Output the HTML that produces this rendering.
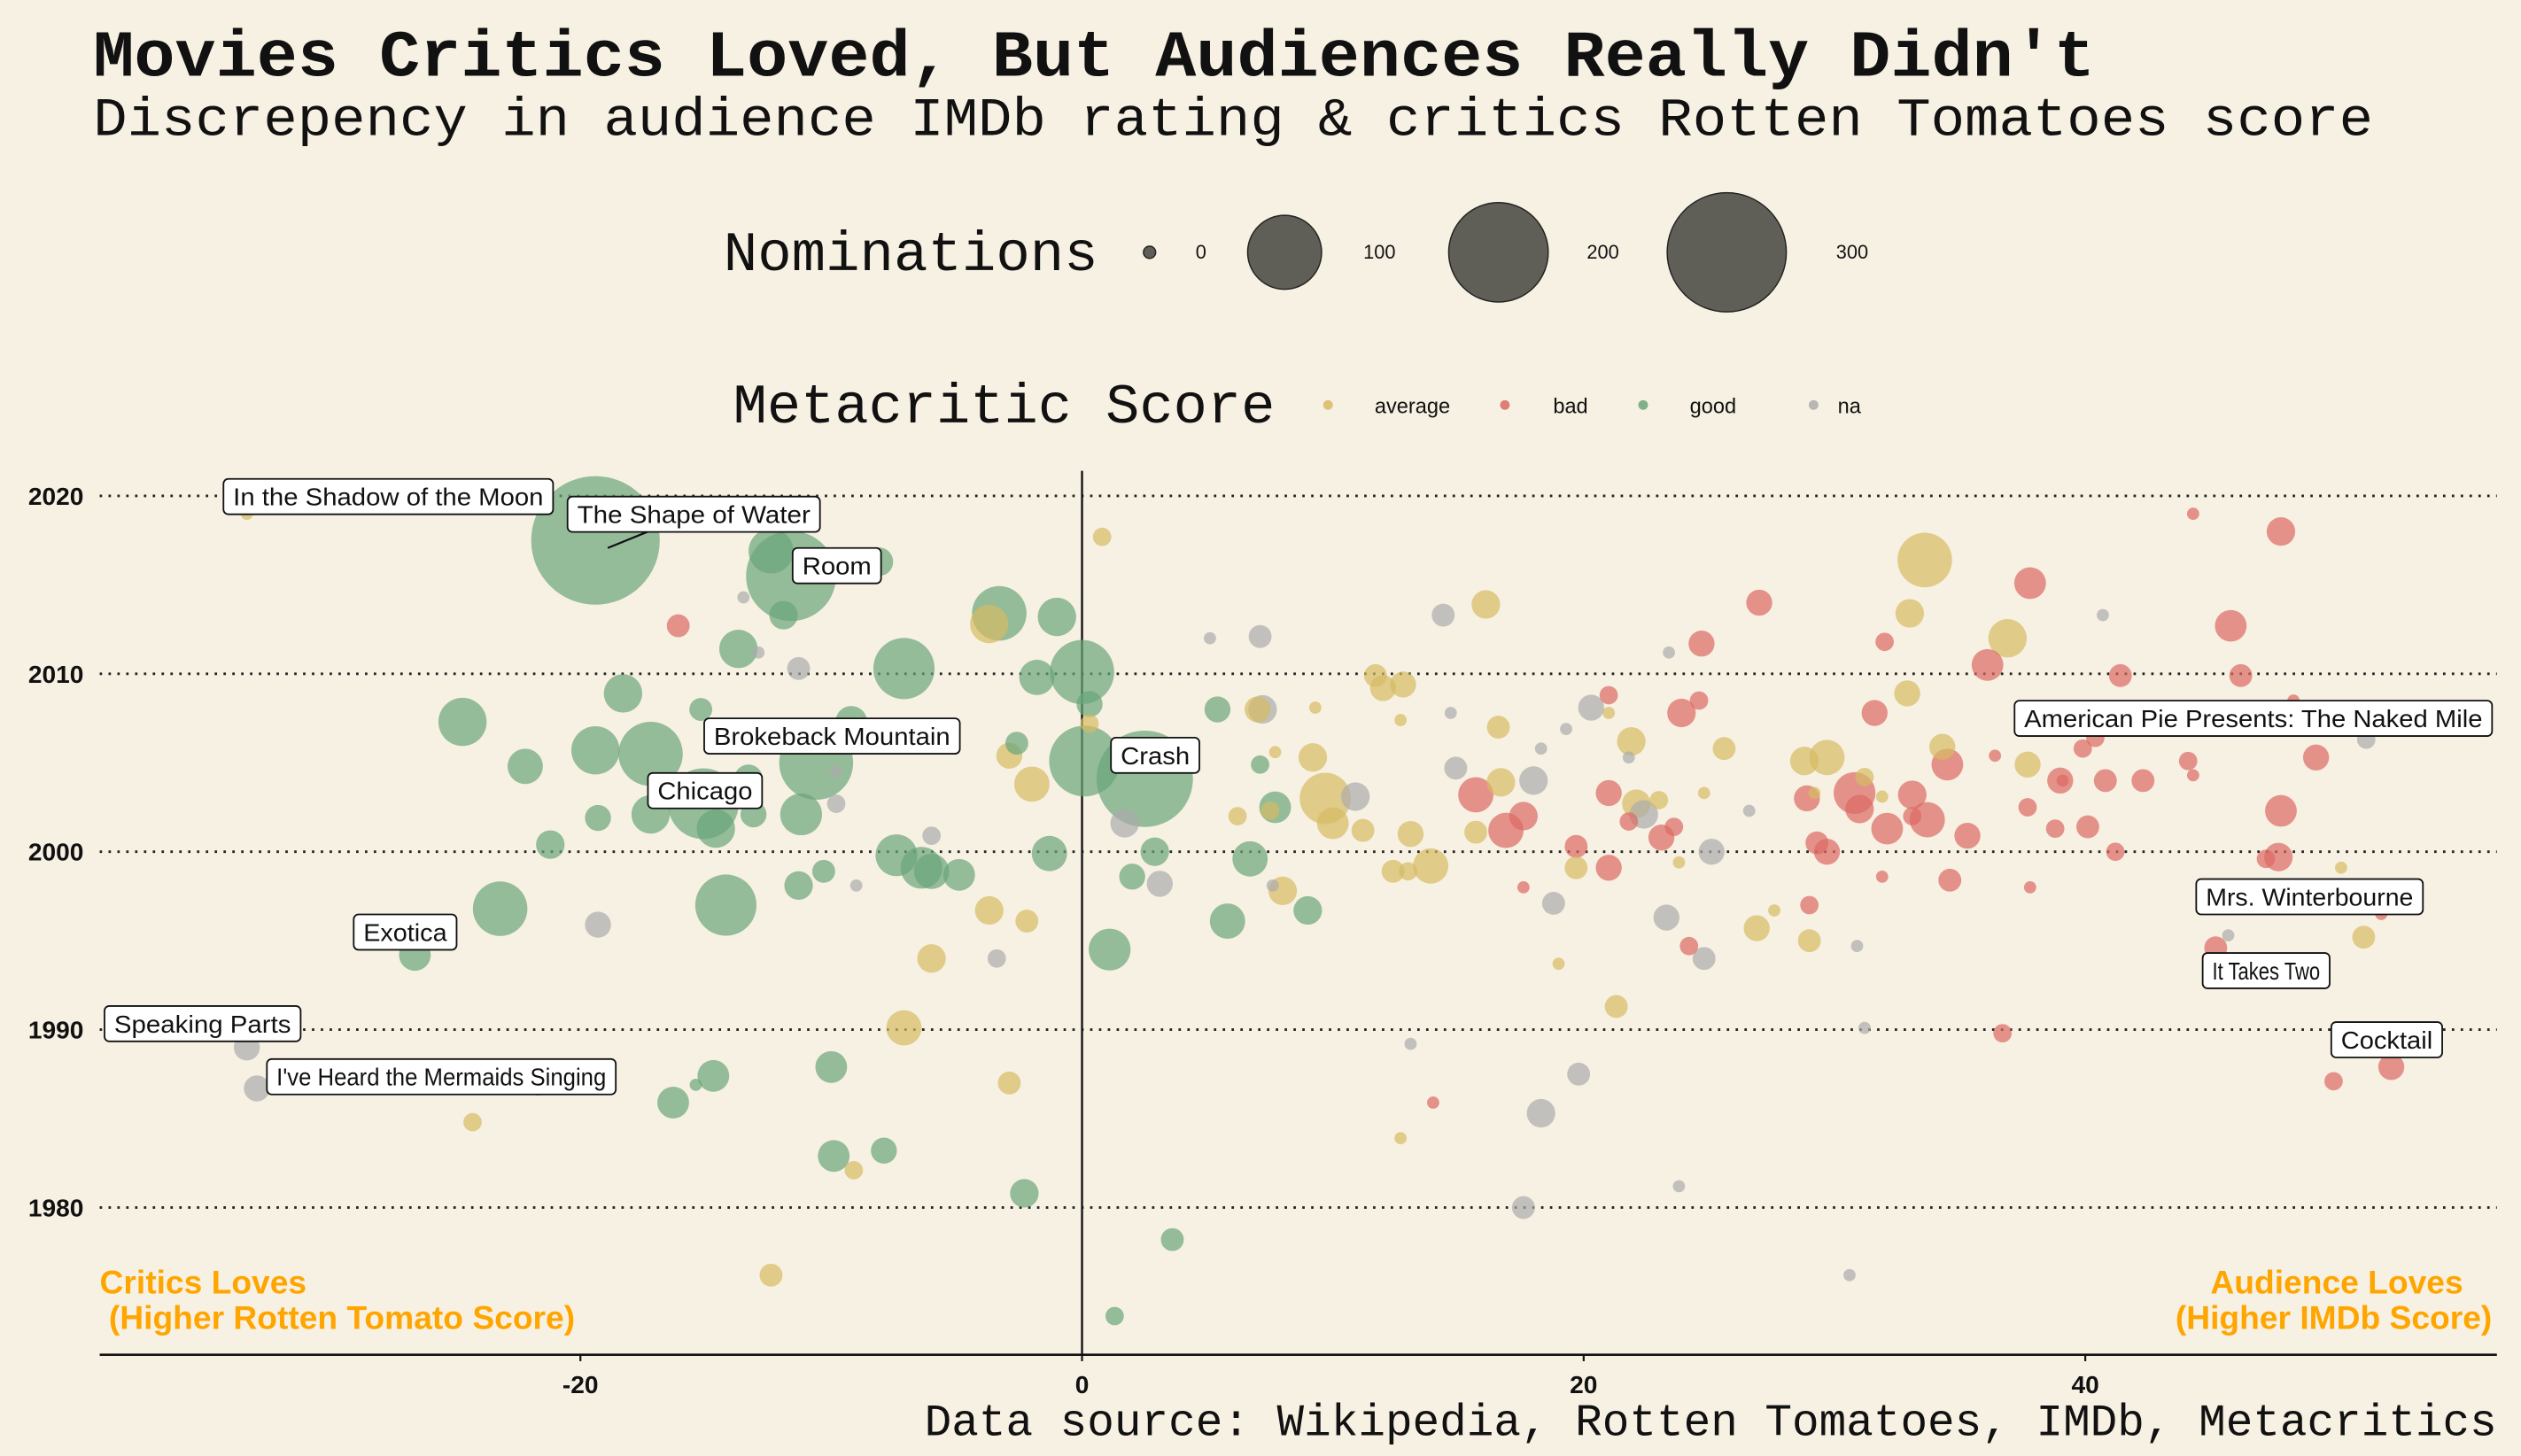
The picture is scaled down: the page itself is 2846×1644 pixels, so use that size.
<!DOCTYPE html>
<html><head><meta charset="utf-8"><style>
html,body{margin:0;padding:0;background:#F7F1E3;}
svg{display:block;}
.mono{font-family:"Liberation Mono",monospace;}
.sans{font-family:"Liberation Sans",sans-serif;}
</style></head><body>
<svg id="chart" width="2846" height="1644" viewBox="0 0 1568 906" preserveAspectRatio="none" xmlns="http://www.w3.org/2000/svg">
<rect width="1568" height="906" fill="#F7F1E3"/>
<text class="mono" x="58" y="47" font-size="41" font-weight="bold" fill="#111" textLength="1245" lengthAdjust="spacingAndGlyphs">Movies Critics Loved, But Audiences Really Didn't</text>
<text class="mono" x="58" y="84" font-size="33.6" fill="#111" textLength="1418" lengthAdjust="spacingAndGlyphs">Discrepency in audience IMDb rating &amp; critics Rotten Tomatoes score</text>
<g id="sizeLegend">
<text class="mono" x="450" y="168" font-size="35" fill="#111" textLength="233" lengthAdjust="spacingAndGlyphs">Nominations</text>
</g>
<g id="colorLegend">
<text class="mono" x="456" y="263" font-size="35" fill="#111" textLength="337" lengthAdjust="spacingAndGlyphs">Metacritic Score</text>
</g>
<g id="grid"></g>
<g id="axes"></g>
<g id="points"></g>
<g id="labels"></g>
<text class="sans" x="62" y="805" font-size="20.5" font-weight="bold" fill="#FFA500">Critics Loves</text>
<text class="sans" x="62" y="827" font-size="20.5" font-weight="bold" fill="#FFA500" xml:space="preserve"> (Higher Rotten Tomato Score)</text>
<text class="sans" x="1532" y="805" font-size="20.5" font-weight="bold" fill="#FFA500" text-anchor="end">Audience Loves</text>
<text class="sans" x="1550" y="827" font-size="20.5" font-weight="bold" fill="#FFA500" text-anchor="end">(Higher IMDb Score)</text>
<text class="mono" x="575" y="893" font-size="28" fill="#111" textLength="978" lengthAdjust="spacingAndGlyphs">Data source: Wikipedia, Rotten Tomatoes, IMDb, Metacritics</text>
</svg>
<script>
const NS="http://www.w3.org/2000/svg";
const xTicks=[-20,0,20,40];
const yTicks=[1980,1990,2000,2010,2020];
const sizeLegendValues=[0,100,200,300];
const categories=["average","bad","good","na"];
const catColors={average:"#D6BA62",bad:"#DB6A62",good:"#6AA579",na:"#ABABAB"};
// rows: [imdb-minus-rt difference, year, nominations, metacritic category]
const movies=[
[-19.4,2017.5,355,"good"],[-33.3,2019,0,"average"],[-12.4,2016.9,28,"good"],[-11.6,2015.5,159,"good"],[-8.1,2016.3,7,"good"],
[-16.1,2012.7,3,"bad"],[-13.5,2014.3,0,"na"],[-11.9,2013.3,7,"good"],[-13.7,2011.4,18,"good"],[-12.9,2011.2,0,"na"],
[-11.3,2010.3,3,"na"],[-7.1,2010.3,63,"good"],[-3.7,2012.8,18,"average"],[-3.3,2013.4,47,"good"],[-1.0,2013.2,18,"good"],
[-1.8,2009.8,14,"good"],[0,2010.1,71,"good"],[0.3,2008.3,5,"good"],[0.3,2007.2,1,"average"],[-18.3,2008.9,18,"good"],
[-15.2,2008.0,3,"good"],[-24.7,2007.3,34,"good"],[-22.2,2004.8,14,"good"],[-19.4,2005.7,34,"good"],[-17.2,2005.5,71,"good"],
[-9.2,2007.3,10,"good"],[-10.6,2005.0,100,"good"],[-13.3,2004.1,7,"good"],[-15.1,2002.7,90,"good"],[-14.6,2001.3,18,"good"],
[-13.1,2002.1,5,"good"],[-11.2,2002.1,23,"good"],[-17.2,2002.1,18,"good"],[-19.3,2001.9,5,"good"],[-21.2,2000.4,7,"good"],
[-9.8,2004.5,0,"na"],[-9.8,2002.7,1,"na"],[-6.0,2000.9,1,"na"],[-7.4,1999.8,23,"good"],[-6.4,1999.1,23,"good"],
[-4.9,1998.7,10,"good"],[-6.0,1998.9,14,"good"],[-11.3,1998.1,7,"good"],[-10.3,1998.9,3,"good"],[-9.0,1998.1,0,"na"],
[-1.3,1999.9,14,"good"],[-14.2,1997.0,63,"good"],[-23.2,1996.8,47,"good"],[-19.3,1995.9,5,"na"],[-26.6,1994.2,10,"good"],
[-3.7,1996.7,7,"average"],[-2.2,1996.1,3,"average"],[-6.0,1994.0,7,"average"],[-3.4,1994.0,1,"na"],[-7.1,1990.1,14,"average"],
[-33.3,1989.0,5,"na"],[-32.9,1986.7,5,"na"],[-21.7,1987.1,7,"good"],[-14.7,1987.4,10,"good"],[-15.4,1986.9,0,"good"],
[-16.3,1985.9,10,"good"],[-10.0,1987.9,10,"good"],[-2.9,1987.0,3,"average"],[-24.3,1984.8,1,"average"],[-9.9,1982.9,10,"good"],
[-7.9,1983.2,5,"good"],[-9.1,1982.1,1,"average"],[-2.3,1980.8,7,"good"],[-12.4,1976.2,3,"average"],[-2.6,2006.1,3,"good"],
[-2.9,2005.4,5,"average"],[-2.0,2003.8,14,"average"],
[0.8,2017.7,1,"average"],[2.5,2004.1,186,"good"],[0.1,2005.1,90,"good"],[1.7,2001.6,7,"na"],[1.1,1994.5,23,"good"],
[2.0,1998.6,5,"good"],[2.9,2000.0,7,"good"],[3.1,1998.2,5,"na"],[5.1,2012.0,0,"na"],[7.1,2012.1,3,"na"],
[5.4,2008.0,5,"good"],[7.2,2008.0,7,"na"],[7.0,2008.0,5,"average"],[7.1,2004.9,1,"good"],[7.7,2002.5,10,"good"],
[7.5,2002.3,1,"average"],[6.2,2002.0,1,"average"],[6.7,1999.6,14,"good"],[8.0,1997.8,7,"average"],[7.6,1998.1,0,"na"],
[5.8,1996.1,14,"good"],[9.0,1996.7,7,"good"],[1.3,1973.9,1,"good"],[3.6,1978.2,3,"good"],[7.7,2005.6,0,"average"],
[9.3,2008.1,0,"average"],[9.2,2005.3,7,"average"],[9.7,2003.0,40,"average"],[10.9,2003.1,7,"na"],[10.0,2001.6,10,"average"],
[11.2,2001.2,3,"average"],[11.7,2009.9,3,"average"],[12.0,2009.2,5,"average"],[12.8,2009.4,5,"average"],[12.7,2007.4,0,"average"],
[13.1,2001.0,5,"average"],[12.4,1998.9,3,"average"],[13.0,1998.9,1,"average"],[13.9,1999.2,14,"average"],[13.1,1989.2,0,"na"],
[12.7,1983.9,0,"average"],[14.0,1985.9,0,"bad"],[14.4,2013.3,3,"na"],[16.1,2013.9,7,"average"],[14.7,2007.8,0,"na"],
[14.9,2004.7,3,"na"],[15.7,2001.1,3,"average"],[15.7,2003.2,14,"bad"],[16.9,2001.2,14,"bad"],[16.7,2003.9,7,"average"],
[16.6,2007.0,3,"average"],[17.6,2002.0,7,"bad"],[18.0,2004.0,7,"na"],[18.3,2005.8,0,"na"],[17.6,1998.0,0,"bad"],
[18.8,1997.1,3,"na"],[19.0,1993.7,0,"average"],[17.6,1980.0,3,"na"],[18.3,1985.3,7,"na"],[19.8,1987.5,3,"na"],
[19.7,2000.3,3,"bad"],[19.7,1999.1,3,"average"],[19.3,2006.9,0,"na"],[20.3,2008.1,5,"na"],[21.0,2008.8,1,"bad"],
[21.0,2007.8,0,"average"],[21.0,2003.3,5,"bad"],[21.0,1999.1,5,"bad"],[21.3,1991.3,3,"average"],[21.9,2006.2,7,"average"],
[22.1,2002.7,7,"average"],[21.8,2005.3,0,"na"],[22.4,2002.1,7,"na"],[23.0,2002.9,1,"average"],[21.8,2001.7,1,"bad"],
[23.1,2000.8,5,"bad"],[23.6,2001.4,1,"bad"],[23.8,1999.4,0,"average"],[23.3,1996.3,5,"na"],[24.2,1994.7,1,"bad"],
[24.8,1994.0,3,"na"],[23.9,2007.8,7,"bad"],[24.6,2008.5,1,"bad"],[24.7,2011.7,5,"bad"],[23.4,2011.2,0,"na"],
[25.6,2005.8,3,"average"],[24.8,2003.3,0,"average"],[25.1,2000.0,5,"na"],[26.6,2002.3,0,"na"],[27.0,2014.0,5,"bad"],
[26.9,1995.7,5,"average"],[27.6,1996.7,0,"average"],[23.8,1981.2,0,"na"],[28.8,2005.1,7,"average"],[29.7,2005.3,14,"average"],
[28.9,2003.0,5,"bad"],[29.2,2003.3,0,"average"],[29.3,2000.5,3,"bad"],[29.7,2000.0,5,"bad"],[29.0,1997.0,1,"bad"],
[29.0,1995.0,3,"average"],[30.8,2003.3,23,"bad"],[31.0,2002.4,7,"bad"],[32.1,2001.3,10,"bad"],[31.9,2003.1,0,"average"],
[31.2,2004.2,1,"average"],[31.9,1998.6,0,"bad"],[30.9,1994.7,0,"na"],[31.2,1990.1,0,"na"],[30.6,1976.2,0,"na"],
[31.6,2007.8,5,"bad"],[32.0,2011.8,1,"bad"],[32.9,2008.9,5,"average"],[33.0,2013.4,7,"average"],[33.6,2016.4,47,"average"],
[33.1,2003.2,7,"bad"],[33.7,2001.8,14,"bad"],[33.1,2002.0,1,"bad"],[34.5,2004.9,10,"bad"],[34.6,1998.4,3,"bad"],
[34.3,2005.9,5,"average"],[35.3,2000.9,5,"bad"],[36.1,2010.5,10,"bad"],[36.9,2012.0,18,"average"],[36.4,2005.4,0,"bad"],
[36.7,1989.8,1,"bad"],[37.8,2015.1,10,"bad"],[37.7,2004.9,5,"average"],[37.7,2002.5,1,"bad"],[37.8,1998.0,0,"bad"],
[38.8,2001.3,1,"bad"],[39.0,2004.0,5,"bad"],[39.1,2004.0,0,"bad"],[40.1,2001.4,3,"bad"],[39.9,2005.8,1,"bad"],
[40.4,2006.4,1,"bad"],[40.8,2004.0,3,"bad"],[41.2,2000.0,1,"bad"],[41.4,2009.9,3,"bad"],[40.7,2013.3,0,"na"],
[42.3,2004.0,3,"bad"],[44.1,2005.1,1,"bad"],[44.3,2004.3,0,"bad"],[44.3,2019.0,0,"bad"],[47.8,2018.0,7,"bad"],
[45.8,2012.7,10,"bad"],[46.2,2009.9,3,"bad"],[45.2,1994.6,3,"bad"],[45.7,1995.3,0,"na"],[47.8,2002.3,10,"bad"],
[47.7,1999.7,7,"bad"],[47.2,1999.6,1,"bad"],[48.3,2008.5,0,"bad"],[49.2,2005.3,5,"bad"],[51.2,2006.3,1,"na"],
[50.2,1999.1,0,"average"],[51.1,1995.2,3,"average"],[51.8,1996.5,0,"bad"],[49.9,1987.1,1,"bad"],[52.2,1987.9,5,"bad"]
];
const annotations=[
["In the Shadow of the Moon",139,298,205],["The Shape of Water",353,309,157],["Room",493,341,55],
["Brokeback Mountain",438,447,159],["Chicago",403,481,71],["Exotica",220,569,64],["Speaking Parts",65,626,122],
["I've Heard the Mermaids Singing",166,659,217],["Crash",691,459,55],["American Pie Presents: The Naked Mile",1253,436,297],
["Mrs. Winterbourne",1366,547,141],["It Takes Two",1370,593,79],["Cocktail",1450,636,69]
];
const xScale=v=>673+v*15.6;
const yScale=y=>530-(y-2000)*11.07;
const rScale=n=>3.8+1.92*Math.sqrt(Math.max(0,n));
function mk(tag,attrs,parent){const e=document.createElementNS(NS,tag);for(const k in attrs)e.setAttribute(k,attrs[k]);parent.appendChild(e);return e;}
const grid=document.getElementById('grid'),axes=document.getElementById('axes'),pts=document.getElementById('points'),lab=document.getElementById('labels');
yTicks.forEach(t=>{
 const l=mk('line',{x1:62,x2:1553,y1:yScale(t),y2:yScale(t),stroke:'#222','stroke-width':1.6,'stroke-dasharray':'1.5 4'},grid);
 
 
 const tx=mk('text',{x:52,y:yScale(t)+5.5,'text-anchor':'end','font-size':15.5,'font-weight':'bold',class:'sans',fill:'#111'},axes);
 tx.textContent=t;
 
 
});
let zl=mk('line',{x1:xScale(0),x2:xScale(0),y1:293,y2:843,stroke:'#111','stroke-width':1.3},axes);


let xa=mk('line',{x1:62,x2:1553,y1:843,y2:843,stroke:'#111','stroke-width':1.5},axes);


xTicks.forEach(t=>{
 const tk=mk('line',{x1:xScale(t),x2:xScale(t),y1:843,y2:847,stroke:'#111','stroke-width':1.2},axes);
 
 
 const tx=mk('text',{x:xScale(t),y:867,'text-anchor':'middle','font-size':15.5,'font-weight':'bold',class:'sans',fill:'#111'},axes);
 tx.textContent=t;
 
 
});
const sorted=movies.slice().sort((a,b)=>b[2]-a[2]);
sorted.forEach(m=>{
 const c=mk('circle',{cx:xScale(m[0]),cy:yScale(m[1]),r:rScale(m[2]),fill:catColors[m[3]],'fill-opacity':0.7},pts);
 
 
});
let cl=mk('line',{x1:378,y1:341,x2:405,y2:330,stroke:'#111','stroke-width':1.2},lab);


annotations.forEach(a=>{
 const g=mk('g',{},lab);
 
 
 mk('rect',{x:a[1],y:a[2],width:a[3],height:22,rx:3,fill:'#fff',stroke:'#111','stroke-width':1},g);
 const t=mk('text',{x:a[1]+6,y:a[2]+16.5,'font-size':15.5,class:'sans',fill:'#111',textLength:a[3]-12,lengthAdjust:'spacingAndGlyphs'},g);
 t.textContent=a[0];
});
const sl=document.getElementById('sizeLegend');
const slx=[715,799,932,1074], sltx=[747,858,997,1152];
sizeLegendValues.forEach((v,i)=>{
 const c=mk('circle',{cx:slx[i],cy:157,r:rScale(v),fill:'#4a4a44','fill-opacity':0.88,stroke:'#222','stroke-width':0.8},sl);
 
 
 const t=mk('text',{x:sltx[i],y:161,'text-anchor':'middle','font-size':12,class:'sans',fill:'#111'},sl);
 t.textContent=v;
 
 
});
const cg=document.getElementById('colorLegend');
const cdx=[826,936,1022,1128], ctx=[855,966,1051,1143];
categories.forEach((k,i)=>{
 const c=mk('circle',{cx:cdx[i],cy:252,r:3,fill:catColors[k],'fill-opacity':0.85},cg);
 
 
 const t=mk('text',{x:ctx[i],y:257,'font-size':13,class:'sans',fill:'#111'},cg);
 t.textContent=k;
 
 
});
</script>
</body></html>
